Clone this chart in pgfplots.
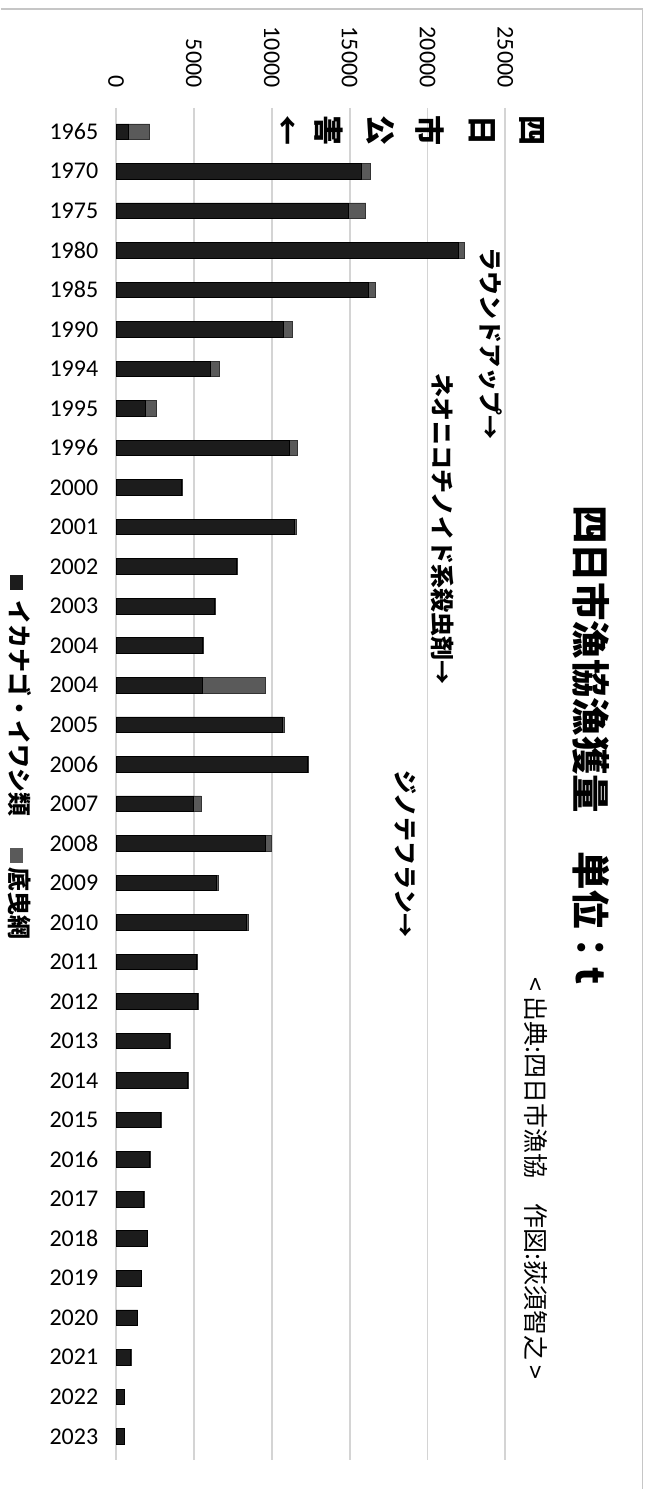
\documentclass[border=0pt]{standalone}
\usepackage{pgfplots}
\pgfplotsset{compat=1.18}
\usepackage{pgfplotstable}
\usepackage{fontspec}
\setmainfont{Carlito}
\newfontfamily\jp{Noto Sans CJK JP}

\definecolor{ika}{HTML}{1C1C1C}
\definecolor{soko}{HTML}{5A5A5A}
\definecolor{gridc}{HTML}{D4D4D4}

% idx: row from the top, ika = イカナゴ・イワシ類, soko = 底曳網 (t)
\pgfplotstableread{
idx ika soko
0 820 1350
1 15780 580
2 14920 1120
3 21970 370
4 16200 430
5 10760 570
6 6060 570
7 1890 690
8 11140 480
9 4200 80
10 11420 150
11 7700 110
12 6290 90
13 5540 90
14 5530 4070
15 10710 90
16 12270 90
17 4990 490
18 9580 410
19 6450 100
20 8400 70
21 5180 60
22 5250 60
23 3440 50
24 4580 50
25 2870 50
26 2170 40
27 1780 30
28 2000 40
29 1620 30
30 1370 30
31 950 20
32 530 15
33 530 15
}\catch

\begin{document}
\begin{tikzpicture}
\begin{axis}[
  at={(57.75pt,-54pt)}, anchor=north west,
  scale only axis, width=194.75pt, height=676.3pt,
  xbar stacked, bar width=7.8pt,
  xmin=0, xmax=25000, ymin=-0.6, ymax=33.6,
  y dir=reverse,
  xtick={0,5000,...,25000},
  ytick={0,...,33},
  yticklabels={1965,1970,1975,1980,1985,1990,1994,1995,1996,2000,2001,2002,2003,2004,2004,2005,2006,2007,2008,2009,2010,2011,2012,2013,2014,2015,2016,2017,2018,2019,2020,2021,2022,2023},
  xticklabel pos=right,
  scaled x ticks=false,
  /pgf/number format/1000 sep={},
  /pgf/number format/assume math mode=true,
  xmajorgrids, grid style={gridc, line width=0.9pt},
  axis line style={draw=none},
  major tick length=0pt,
  tick style={draw=none},
  xticklabel style={rotate=-90, anchor=east, inner sep=0pt, font=\fontsize{12pt}{14pt}\selectfont},
  yticklabel style={anchor=east, inner sep=0pt, font=\fontsize{12pt}{14pt}\selectfont},
  xticklabel shift=10pt, yticklabel shift=8.75pt,
  clip=false,
]
\addplot[fill=ika, draw=black, line width=0.4pt] table[x=ika,y=idx]{\catch};
\addplot[fill=soko, draw=black!80, line width=0.4pt] table[x=soko,y=idx]{\catch};
\end{axis}

\begin{scope}[x=0.5pt, y=-0.5pt]
\path (0,0) rectangle (648,1490);
\draw[gray!45, line width=0.6pt] (0,9) -- (642,9) -- (642,1490);

% title
\node[rotate=-90, anchor=west, inner sep=0pt, font=\jp\bfseries\fontsize{19.25pt}{22pt}\selectfont]
  at (591,505) {四日市漁協漁獲量　単位：t};
% source
\node[rotate=-90, anchor=west, inner sep=0pt, font=\jp\fontsize{12.5pt}{14pt}\selectfont]
  at (536,977) {< 出典:四日市漁協　作図:荻須智之 >};

% annotations
\node[rotate=-90, anchor=west, inner sep=0pt, font=\jp\bfseries\fontsize{12pt}{14pt}\selectfont]
  at (490,247) {ラウンドアップ→};
\node[rotate=-90, anchor=west, inner sep=0pt, font=\jp\bfseries\fontsize{12pt}{14pt}\selectfont]
  at (442,373) {ネオニコチノイド系殺虫剤→};
\node[rotate=-90, anchor=west, inner sep=0pt, font=\jp\bfseries\fontsize{12pt}{14pt}\selectfont]
  at (405,770) {ジノテフラン→};
\foreach \c/\x in {四/532, 日/482, 市/430, 公/380, 害/328, ←/285}
  \node[rotate=-90, inner sep=0pt, font=\jp\bfseries\fontsize{15pt}{17pt}\selectfont] at (\x,131) {\c};

% legend
\node[rotate=-90, anchor=west, inner sep=0pt, font=\jp\bfseries\fontsize{12pt}{14pt}\selectfont]
  at (19,575) {\textcolor{ika}{\rule{7.5pt}{6.5pt}}\hspace{5pt}イカナゴ・イワシ類\hspace{16pt}\textcolor{soko}{\rule{7.5pt}{6.5pt}}\hspace{2pt}底曳網};
\end{scope}
\end{tikzpicture}
\end{document}
